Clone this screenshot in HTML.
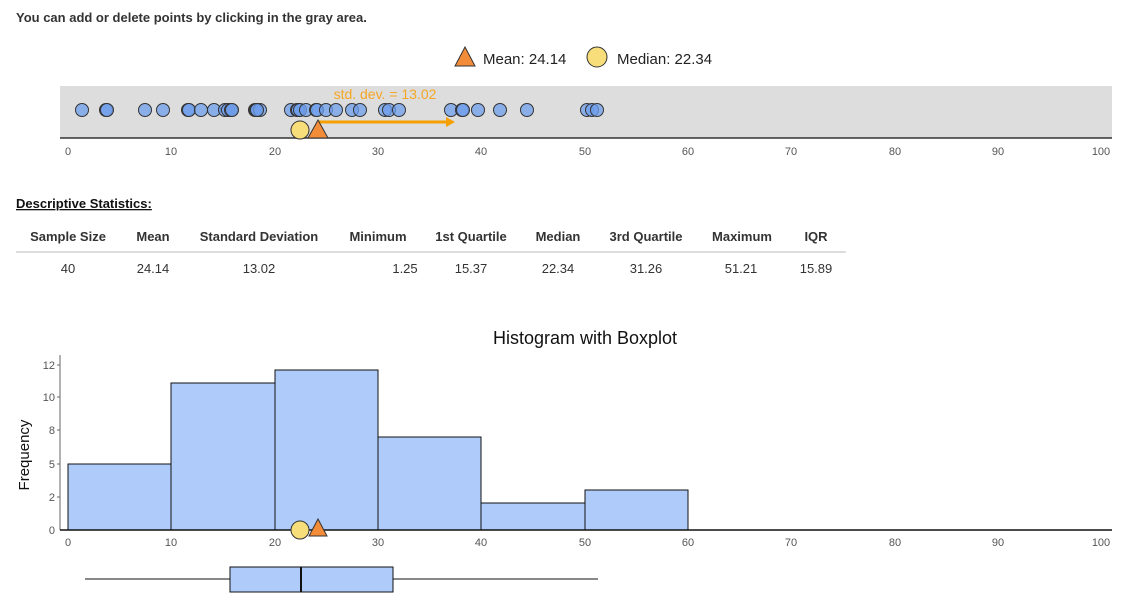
<!DOCTYPE html>
<html><head><meta charset="utf-8"><style>
html,body{margin:0;padding:0;background:#fff;width:1123px;height:607px;overflow:hidden}
svg{display:block;font-family:"Liberation Sans",Arial,sans-serif}
</style></head><body>
<svg width="1123" height="607" viewBox="0 0 1123 607">
<text x="16" y="22" font-size="13" font-weight="bold" fill="#333">You can add or delete points by clicking in the gray area.</text>
<polygon points="465,47 455,66 475,66" fill="#f28c38" stroke="#333" stroke-width="1"/>
<text x="483" y="64" font-size="15" fill="#222">Mean: 24.14</text>
<circle cx="597" cy="57" r="10" fill="#f8de7a" stroke="#333" stroke-width="1"/>
<text x="617" y="64" font-size="15" fill="#222">Median: 22.34</text>
<rect x="60" y="86" width="1052" height="52" fill="#dddddd"/>
<line x1="60" y1="138" x2="1112" y2="138" stroke="#333" stroke-width="1.5"/>
<g font-size="11" fill="#555" text-anchor="middle">
<text x="68" y="155">0</text><text x="171" y="155">10</text><text x="275" y="155">20</text><text x="378" y="155">30</text><text x="481" y="155">40</text><text x="585" y="155">50</text><text x="688" y="155">60</text><text x="791" y="155">70</text><text x="895" y="155">80</text><text x="998" y="155">90</text><text x="1101" y="155">100</text>
</g>
<g fill="#6d9eeb" fill-opacity="0.75" stroke="#333" stroke-width="1">
<circle cx="82" cy="110" r="6.5"/><circle cx="106" cy="110" r="6.5"/><circle cx="107" cy="110" r="6.5"/><circle cx="145" cy="110" r="6.5"/><circle cx="163" cy="110" r="6.5"/><circle cx="188" cy="110" r="6.5"/><circle cx="189" cy="110" r="6.5"/><circle cx="201" cy="110" r="6.5"/><circle cx="214" cy="110" r="6.5"/><circle cx="225" cy="110" r="6.5"/><circle cx="228" cy="110" r="6.5"/><circle cx="231" cy="110" r="6.5"/><circle cx="255" cy="110" r="6.5"/><circle cx="256" cy="110" r="6.5"/><circle cx="260" cy="110" r="6.5"/><circle cx="291" cy="110" r="6.5"/><circle cx="297" cy="110" r="6.5"/><circle cx="298" cy="110" r="6.5"/><circle cx="300" cy="110" r="6.5"/><circle cx="306" cy="110" r="6.5"/><circle cx="316" cy="110" r="6.5"/><circle cx="317" cy="110" r="6.5"/><circle cx="326" cy="110" r="6.5"/><circle cx="336" cy="110" r="6.5"/><circle cx="352" cy="110" r="6.5"/><circle cx="360" cy="110" r="6.5"/><circle cx="385" cy="110" r="6.5"/><circle cx="389" cy="110" r="6.5"/><circle cx="399" cy="110" r="6.5"/><circle cx="451" cy="110" r="6.5"/><circle cx="462" cy="110" r="6.5"/><circle cx="463" cy="110" r="6.5"/><circle cx="478" cy="110" r="6.5"/><circle cx="500" cy="110" r="6.5"/><circle cx="527" cy="110" r="6.5"/><circle cx="587" cy="110" r="6.5"/><circle cx="592" cy="110" r="6.5"/><circle cx="597" cy="110" r="6.5"/><circle cx="257" cy="110" r="6.5"/><circle cx="232" cy="110" r="6.5"/>
</g>
<text x="385" y="99" font-size="14" fill="#f5a623" text-anchor="middle">std. dev. = 13.02</text>
<line x1="318" y1="122" x2="448" y2="122" stroke="#f5a000" stroke-width="3"/>
<polygon points="455,122 446,117 446,127" fill="#f5a000"/>
<circle cx="300" cy="130" r="9" fill="#f8de7a" stroke="#333" stroke-width="1"/>
<polygon points="318,120 308,138 328,138" fill="#f28c38" stroke="#333" stroke-width="1"/>
<text x="16" y="208" font-size="13" font-weight="bold" fill="#111" text-decoration="underline">Descriptive Statistics:</text>
<line x1="16" y1="252" x2="846" y2="252" stroke="#ddd" stroke-width="2"/>
<g font-size="13" font-weight="bold" fill="#333" text-anchor="middle">
<text x="68" y="241">Sample Size</text><text x="153" y="241">Mean</text><text x="259" y="241">Standard Deviation</text><text x="378" y="241">Minimum</text><text x="471" y="241">1st Quartile</text><text x="558" y="241">Median</text><text x="646" y="241">3rd Quartile</text><text x="742" y="241">Maximum</text><text x="816" y="241">IQR</text>
</g>
<g font-size="13" fill="#333" text-anchor="middle">
<text x="68" y="273">40</text><text x="153" y="273">24.14</text><text x="259" y="273">13.02</text><text x="405" y="273">1.25</text><text x="471" y="273">15.37</text><text x="558" y="273">22.34</text><text x="646" y="273">31.26</text><text x="741" y="273">51.21</text><text x="816" y="273">15.89</text>
</g>
<text x="585" y="344" font-size="18" fill="#111" text-anchor="middle">Histogram with Boxplot</text>
<text transform="translate(29,455) rotate(-90)" font-size="15" fill="#111" text-anchor="middle">Frequency</text>
<line x1="60" y1="355" x2="60" y2="530" stroke="#666" stroke-width="1"/>
<g font-size="11" fill="#555" text-anchor="end">
<text x="55" y="369">12</text><text x="55" y="401">10</text><text x="55" y="434">8</text><text x="55" y="468">5</text><text x="55" y="501">2</text><text x="55" y="534">0</text>
</g>
<g stroke="#666"><line x1="57" y1="365" x2="60" y2="365"/><line x1="57" y1="397" x2="60" y2="397"/><line x1="57" y1="430" x2="60" y2="430"/><line x1="57" y1="464" x2="60" y2="464"/><line x1="57" y1="497" x2="60" y2="497"/></g>
<g fill="#aecbfa" stroke="#111" stroke-width="1">
<rect x="68" y="464" width="103" height="66"/>
<rect x="171" y="383" width="104" height="147"/>
<rect x="275" y="370" width="103" height="160"/>
<rect x="378" y="437" width="103" height="93"/>
<rect x="481" y="503" width="104" height="27"/>
<rect x="585" y="490" width="103" height="40"/>
</g>
<line x1="60" y1="530" x2="1112" y2="530" stroke="#111" stroke-width="1.5"/>
<g font-size="11" fill="#555" text-anchor="middle">
<text x="68" y="546">0</text><text x="171" y="546">10</text><text x="275" y="546">20</text><text x="378" y="546">30</text><text x="481" y="546">40</text><text x="585" y="546">50</text><text x="688" y="546">60</text><text x="791" y="546">70</text><text x="895" y="546">80</text><text x="998" y="546">90</text><text x="1101" y="546">100</text>
</g>
<circle cx="300" cy="530" r="9" fill="#f8de7a" stroke="#333" stroke-width="1"/>
<polygon points="318,519 309,536 327,536" fill="#f28c38" stroke="#333" stroke-width="1"/>
<line x1="85" y1="579" x2="598" y2="579" stroke="#111" stroke-width="1"/>
<rect x="230" y="567" width="163" height="25" fill="#aecbfa" stroke="#111" stroke-width="1"/>
<line x1="301" y1="567" x2="301" y2="592" stroke="#111" stroke-width="2"/>
</svg>
</body></html>
